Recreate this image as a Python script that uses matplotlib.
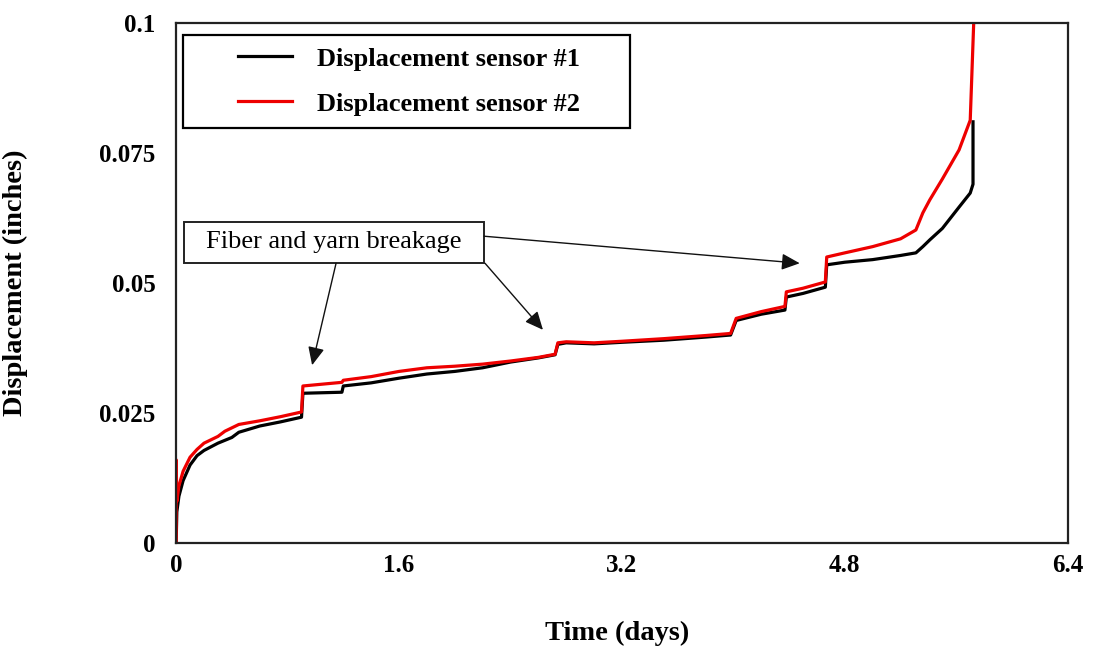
import matplotlib
matplotlib.use('Agg')
import matplotlib.pyplot as plt
from matplotlib.legend_handler import HandlerLine2D
from matplotlib.patches import Rectangle

# ----- data (time in days, displacement in inches) -----
t_s1 = [0, 0.005, 0.02, 0.05, 0.1, 0.15, 0.2, 0.3, 0.4, 0.45, 0.6, 0.75, 0.9, 0.91,
        1.19, 1.2, 1.4, 1.6, 1.8, 2.0, 2.2, 2.4, 2.6, 2.72, 2.74, 2.8, 3.0, 3.2, 3.5,
        3.8, 3.98, 4.02, 4.2, 4.37, 4.38, 4.5, 4.66, 4.67, 4.8, 5.0, 5.2, 5.31, 5.36,
        5.41, 5.5, 5.62, 5.70, 5.72, 5.72]
d_s1 = [0, 0.006, 0.009, 0.012, 0.015, 0.0168, 0.0178, 0.0192, 0.0203, 0.0213,
        0.0225, 0.0233, 0.0242, 0.0288, 0.029, 0.0302, 0.0308, 0.0317, 0.0325, 0.033,
        0.0337, 0.0348, 0.0356, 0.0362, 0.0382, 0.0385, 0.0383, 0.0386, 0.039, 0.0396,
        0.04, 0.0428, 0.044, 0.0448, 0.0473, 0.048, 0.0492, 0.0535, 0.054, 0.0545,
        0.0553, 0.0558, 0.057, 0.0583, 0.0605, 0.0646, 0.0673, 0.069, 0.081]

t_s2 = [0, 0, 0.005, 0.02, 0.05, 0.1, 0.15, 0.2, 0.3, 0.35, 0.45, 0.6, 0.75, 0.9, 0.91,
        1.19, 1.2, 1.4, 1.6, 1.8, 2.0, 2.2, 2.4, 2.6, 2.72, 2.74, 2.8, 3.0, 3.2, 3.5,
        3.8, 3.98, 4.02, 4.2, 4.37, 4.38, 4.5, 4.66, 4.67, 4.8, 5.0, 5.2, 5.31, 5.36,
        5.41, 5.5, 5.62, 5.70, 5.725]
d_s2 = [0, 0.016, 0.008, 0.011, 0.0138, 0.0165, 0.018, 0.0192, 0.0205, 0.0215, 0.0228,
        0.0235, 0.0243, 0.0252, 0.0302, 0.0309, 0.0313, 0.032, 0.033, 0.0337, 0.034,
        0.0344, 0.035, 0.0357, 0.0363, 0.0385, 0.0387, 0.0385, 0.0388, 0.0393, 0.0399,
        0.0403, 0.0432, 0.0445, 0.0455, 0.0483, 0.049, 0.0502, 0.055, 0.0558, 0.057,
        0.0585, 0.0602, 0.0635, 0.066, 0.07, 0.0756, 0.0813, 0.1]

x_ticks = [0, 1.6, 3.2, 4.8, 6.4]
x_tick_labels = ['0', '1.6', '3.2', '4.8', '6.4']
y_ticks = [0, 0.025, 0.05, 0.075, 0.1]
y_tick_labels = ['0', '0.025', '0.05', '0.075', '0.1']

plt.rcParams['font.family'] = ['Liberation Serif', 'DejaVu Serif']

fig = plt.figure(figsize=(10.94, 6.48), dpi=100)
ax = fig.add_axes([0.161, 0.162, 0.815, 0.8025])

ax.plot(t_s1, d_s1, color='black', lw=2.3, label='Displacement sensor #1')
ax.plot(t_s2, d_s2, color='#ee0000', lw=2.3, label='Displacement sensor #2')

ax.set_xlim(0, 6.4)
ax.set_ylim(0, 0.1)
ax.set_xticks(x_ticks)
ax.set_xticklabels(x_tick_labels, fontsize=18, fontweight='bold')
ax.set_yticks(y_ticks)
ax.set_yticklabels(y_tick_labels, fontsize=18, fontweight='bold')
ax.tick_params(axis='both', length=0)
ax.tick_params(axis='y', pad=15)
ax.tick_params(axis='x', pad=8)
for sp in ax.spines.values():
    sp.set_linewidth(1.6)
    sp.set_color('#222222')

ax.set_xlabel('Time (days)', fontsize=20.5, fontweight='bold')
ax.set_ylabel('Displacement (inches)', fontsize=20.5, fontweight='bold')
ax.xaxis.set_label_coords(0.495, -0.15)
ax.yaxis.set_label_coords(-0.166, 0.5)

# legend with the short line shifted right inside the handle box
hmap = {l: HandlerLine2D(xpad=1.62) for l in ax.get_lines()}
leg = ax.legend(loc='upper left', bbox_to_anchor=(0.0078, 0.798, 0.501, 0.179),
                mode='expand', borderaxespad=0,
                fancybox=False, edgecolor='black', framealpha=1,
                prop={'size': 19, 'weight': 'bold'}, handlelength=3.67,
                handletextpad=0.95, borderpad=0.46, labelspacing=0.82,
                handler_map=hmap)
leg.get_frame().set_linewidth(1.6)

# annotation box
ax.add_patch(Rectangle((0.177 - 0.168, 0.578 - 0.0394), 0.336, 0.0788,
                       transform=ax.transAxes, facecolor='white',
                       edgecolor='#222222', lw=1.4, zorder=5))
ax.text(0.177, 0.578, 'Fiber and yarn breakage', transform=ax.transAxes,
        ha='center', va='center', fontsize=19, zorder=6)

arrow = dict(arrowstyle='-|>,head_length=1.1,head_width=0.5', color='#111111',
             lw=1.0, shrinkA=0, shrinkB=0)
ax.annotate('', xy=(0.976, 0.0342), xytext=(1.148, 0.0538), arrowprops=arrow, zorder=6)
ax.annotate('', xy=(2.633, 0.041), xytext=(2.217, 0.0538), arrowprops=arrow, zorder=6)
ax.annotate('', xy=(4.476, 0.0538), xytext=(2.21, 0.059), arrowprops=arrow, zorder=6)

fig.savefig('out.png', dpi=100)
